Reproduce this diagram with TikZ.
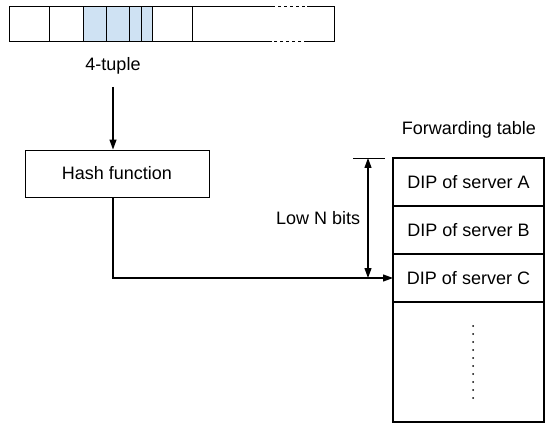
\documentclass[tikz,border=0pt]{standalone}
\usepackage{fontspec}
\setmainfont{Liberation Sans}
\usepackage{tikz}
\usetikzlibrary{chains,scopes,positioning}
\usetikzlibrary{arrows.meta}
\definecolor{tupleblue}{RGB}{207,226,243}

\begin{document}
\begin{tikzpicture}[x=1pt,y=-1pt,font=\fontsize{18}{21}\selectfont,
	cell/.style={draw,line width=0.9pt,minimum height=35pt,inner sep=0pt,outer sep=0pt},
	row/.style={draw,line width=1.1pt,minimum width=151pt,minimum height=48pt,inner sep=0pt,outer sep=0pt},
	arr/.style={-{Triangle[length=10pt,width=7pt]},line width=1.2pt}]
	\useasboundingbox (0,0) rectangle (556,430);
	
	%%% Packet
	\begin{scope}[start chain,node distance=0pt]
	\node[cell,minimum width=40pt,on chain,anchor=north west] (p1) at (9,6) {};
	\node[cell,minimum width=34pt,on chain] (p2) {};
	\node[cell,fill=tupleblue,minimum width=23pt,on chain] (p3) {};
	\node[cell,fill=tupleblue,minimum width=23pt,on chain] (p4) {};
	\node[cell,fill=tupleblue,minimum width=12pt,on chain] (p5) {};
	\node[cell,fill=tupleblue,minimum width=11pt,on chain] (p6) {};
	\node[cell,minimum width=40pt,on chain] (p7) {};
	\node[cell,draw=none,minimum width=142pt,on chain] (p8) {};
	\end{scope};
	
	%% Bordi ultimo campo
	\draw[line width=0.9pt] (p8.north west) -- ++(80,0) coordinate (d1);
	\draw[line width=0.9pt,dashed] (d1) -- ++(35,0) coordinate (d2);
	\draw[line width=0.9pt] (d2) -- (p8.north east) -- (p8.south east) -- ++(-27,0) coordinate (d3);
	\draw[line width=0.9pt,dashed] (d3) -- ++(-35,0) coordinate (d4);
	\draw[line width=0.9pt] (d4) -- (p8.south west);
	
	\node (tup) at (113,66) {4-tuple};
	
	%% Hash
	\node[draw,line width=0.9pt,minimum width=184pt,minimum height=47pt] (hash) at (117,173.5) {Hash function};
	
	%%% Forwarding table
	\begin{scope}[start chain=going below,node distance=0pt]
	\node[row,on chain] (rA) at (468.5,182) {DIP of server A};
	\node[row,on chain] (rB) {DIP of server B};
	\node[row,on chain] (rC) {DIP of server C};
	\node[row,minimum height=120pt,on chain] (rest) {};
	\end{scope};
	\draw[line width=2.2pt] (rA.north west) rectangle (rest.south east);
	\foreach \i in {0,...,9}
		\fill (rest.center) ++(4.5,{8*\i-36}) circle (1pt);
	
	\node (ft) at (469,130) {Forwarding table};
	
	%% Frecce
	\draw[arr,shorten <=9pt] (tup.south) -- (tup.south |- hash.north);
	\draw[arr] ([xshift=-4pt]hash.south) |- (rC.west);
	
	%% Low N bits
	\coordinate (ntop) at (368,158);
	\coordinate (nbot) at (ntop |- rC.west);
	\draw[line width=0.9pt] ([xshift=-15pt]ntop) -- ([xshift=17pt]ntop);
	\draw[{Triangle[length=10pt,width=7pt]}-{Triangle[length=10pt,width=7pt]},line width=1.2pt] (ntop) -- node[left=4pt] (low) {Low N bits} (nbot);
\end{tikzpicture}
\end{document}
